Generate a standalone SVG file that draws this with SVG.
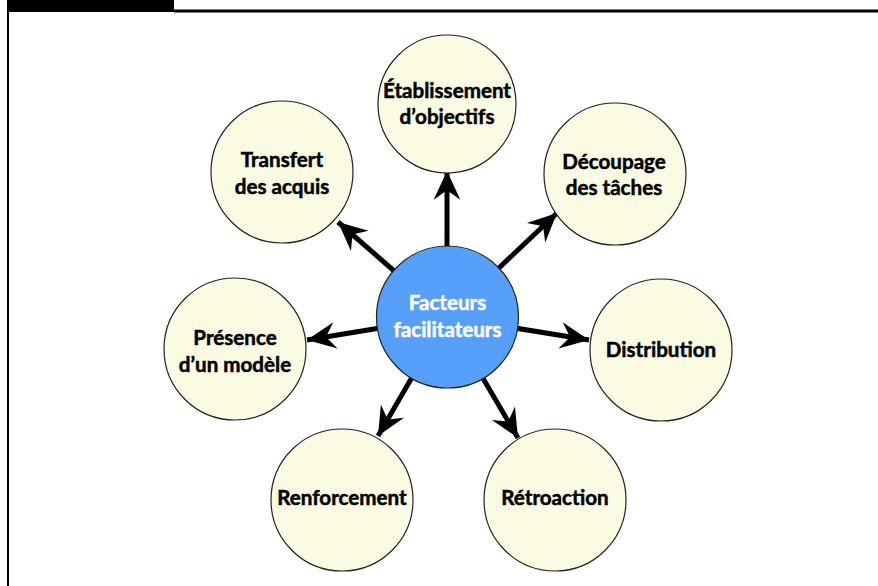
<svg xmlns="http://www.w3.org/2000/svg" width="878" height="586" viewBox="0 0 878 586">
  <style>
    .node { fill: #fbfbe3; stroke: #222; stroke-width: 1.2; }
    .hub { fill: #569ffb; stroke: #222; stroke-width: 1.2; }
    .label { font-family: Lato, "Open Sans", "Liberation Sans", sans-serif; font-weight: bold; font-size: 20.6px; text-anchor: middle; fill: #000; stroke: #000; stroke-width: 0.5; }
    .hub-label { fill: #fff; stroke: #fff; }
    .link { stroke: #000; stroke-width: 5; fill: none; marker-end: url(#head); }
  </style>
  <defs>
    <marker id="head" markerUnits="userSpaceOnUse" markerWidth="32" markerHeight="32" viewBox="-28 -14 30 28" refX="0" refY="0" orient="auto">
      <path d="M0,0 L-27,-12.5 L-18,0 L-27,12.5 Z" fill="#000"/>
    </marker>
  </defs>

  <rect width="878" height="586" fill="#fff"/>

  <!-- frame -->
  <g id="frame">
    <rect x="7" y="0" width="167" height="12" fill="#000"/>
    <line x1="174" y1="11" x2="878" y2="11" stroke="#000" stroke-width="3"/>
    <line x1="8" y1="0" x2="8" y2="586" stroke="#000" stroke-width="2"/>
  </g>

  <!-- connectors from the hub to each factor -->
  <g id="connectors">
    <line class="link" x1="447" y1="317" x2="447" y2="171"/>
    <line class="link" x1="447" y1="317" x2="338" y2="222"/>
    <line class="link" x1="447" y1="317" x2="557" y2="213"/>
    <line class="link" x1="447" y1="317" x2="307" y2="340"/>
    <line class="link" x1="447" y1="317" x2="589" y2="340"/>
    <line class="link" x1="447" y1="317" x2="378" y2="436"/>
    <line class="link" x1="447" y1="317" x2="518" y2="438"/>
  </g>

  <g id="hub">
    <circle class="hub" cx="447.5" cy="317" r="71"/>
    <text class="label hub-label" x="447.5" y="310">Facteurs</text>
    <text class="label hub-label" x="447.5" y="337">facilitateurs</text>
  </g>

  <g id="etablissement">
    <circle class="node" cx="447" cy="104" r="69"/>
    <text class="label" x="447" y="98">Établissement</text>
    <text class="label" x="447" y="124">d’objectifs</text>
  </g>

  <g id="transfert">
    <circle class="node" cx="282" cy="172" r="71"/>
    <text class="label" x="282" y="167">Transfert</text>
    <text class="label" x="282" y="194">des acquis</text>
  </g>

  <g id="decoupage">
    <circle class="node" cx="615" cy="174" r="71"/>
    <text class="label" x="614" y="169">Découpage</text>
    <text class="label" x="614" y="195">des tâches</text>
  </g>

  <g id="presence">
    <circle class="node" cx="235" cy="349" r="71"/>
    <text class="label" x="235" y="345">Présence</text>
    <text class="label" x="235" y="372">d’un modèle</text>
  </g>

  <g id="distribution">
    <circle class="node" cx="661" cy="350" r="71"/>
    <text class="label" x="661" y="357">Distribution</text>
  </g>

  <g id="renforcement">
    <circle class="node" cx="342" cy="500" r="71"/>
    <text class="label" x="342" y="505">Renforcement</text>
  </g>

  <g id="retroaction">
    <circle class="node" cx="555" cy="500" r="71"/>
    <text class="label" x="555" y="505">Rétroaction</text>
  </g>
</svg>
